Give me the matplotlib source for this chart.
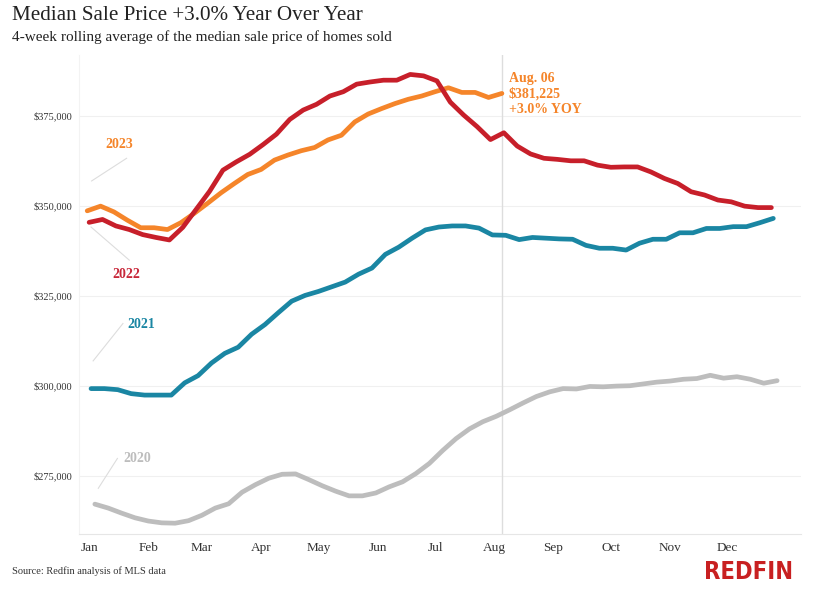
import matplotlib
matplotlib.use("Agg")
import matplotlib.pyplot as plt
import matplotlib.transforms as mtransforms
import pandas as pd
import numpy as np

# ---------------- data ----------------
years = [2020, 2021, 2022, 2023]
start_dates = {2020: "2020-01-05", 2021: "2021-01-03", 2022: "2022-01-02", 2023: "2023-01-01"}

price_2020 = [267100, 266000, 264600, 263300, 262400, 261900, 261800, 262500, 264000, 266000,
              267200, 270400, 272500, 274300, 275400, 275500, 273900, 272200, 270700, 269400,
              269400, 270200, 271900, 273300, 275600, 278400, 282000, 285300, 288000, 290000,
              291500, 293300, 295200, 297000, 298300, 299200, 299100, 299800, 299700, 299900,
              300000, 300500, 301000, 301300, 301800, 302000, 302900, 302100, 302500, 301800,
              300700, 301400]
price_2021 = [299200, 299200, 298900, 297800, 297400, 297400, 297400, 300800, 302800, 306300,
              309000, 310700, 314300, 317000, 320300, 323500, 325100, 326200, 327500, 328800,
              331000, 332700, 336500, 338500, 341000, 343300, 344100, 344400, 344400, 343800,
              341900, 341800, 340600, 341200, 341000, 340800, 340700, 339000, 338200, 338200,
              337700, 339600, 340700, 340700, 342500, 342500, 343700, 343700, 344200, 344200,
              345300, 346500]
price_2022 = [345400, 346200, 344400, 343400, 342000, 341200, 340500, 344000, 349000, 354000,
              359900, 362200, 364300, 367000, 369900, 374000, 376600, 378200, 380500, 381700,
              383800, 384400, 384900, 384900, 386500, 386100, 384700, 378800, 375200, 372000,
              368400, 370300, 366600, 364400, 363200, 362900, 362500, 362500, 361300, 360700,
              360800, 360800, 359400, 357600, 356200, 353900, 353000, 351600, 351100, 349900,
              349500, 349500]
price_2023 = [348600, 349900, 348300, 346000, 343900, 343900, 343400, 345300, 347900, 350700,
              353600, 356200, 358700, 360100, 362700, 364100, 365300, 366200, 368300, 369600,
              373300, 375500, 377000, 378400, 379600, 380500, 381700, 382800, 381500, 381500,
              380100, 381225]
prices = {2020: price_2020, 2021: price_2021, 2022: price_2022, 2023: price_2023}

month_labels = ["Jan", "Feb", "Mar", "Apr", "May", "Jun", "Jul", "Aug", "Sep", "Oct", "Nov", "Dec"]
y_ticks = [275000, 300000, 325000, 350000, 375000]

colors = {2020: "#BDBDBD", 2021: "#1A86A3", 2022: "#C71F2A", 2023: "#F5852A"}
label_colors = {2020: "#BDBDBD", 2021: "#1A86A3", 2022: "#C8283A", 2023: "#F5852A"}

# label positions (day-of-year, price) and leader lines
label_pos = {2023: (17, 366900), 2022: (20.6, 331000), 2021: (28.5, 317100), 2020: (26.4, 279900)}
leader = {2023: ((2.3, 356900), (20.6, 363200)),
          2022: ((2.0, 344100), (22.0, 334900)),
          2021: ((3.1, 306900), (18.7, 317300)),
          2020: ((5.8, 271500), (15.8, 279800))}

latest_date = "2023-08-06"
latest_text = "Aug. 06\n$381,225\n+3.0% YOY"

# ---------------- plot ----------------
serif = ["Liberation Serif", "DejaVu Serif"]
plt.rcParams["font.family"] = serif

fig = plt.figure(figsize=(8.15, 6.07), dpi=100)
ax = fig.add_axes([79 / 815, 1 - 534 / 607, 722 / 815, 479 / 607])

def doy(ts):
    return (ts - pd.Timestamp(ts.year, 1, 1)).days

for yr in [2020, 2021, 2023, 2022]:
    dates = pd.date_range(start_dates[yr], periods=len(prices[yr]), freq="7D")
    x = [doy(d) for d in dates]
    ax.plot(x, prices[yr], color=colors[yr], lw=3.4, solid_capstyle="round",
            solid_joinstyle="round", zorder=3)

for yr in years:
    (x0, y0), (x1, y1) = leader[yr]
    ax.plot([x0, x1], [y0, y1], color="#DDDDDD", lw=0.8, zorder=2)
    ax.text(label_pos[yr][0], label_pos[yr][1], str(yr), color=label_colors[yr],
            fontsize=10, fontweight="bold", ha="center", va="center")

ld = doy(pd.Timestamp(latest_date))
ax.axvline(ld, color="#DDDDDD", lw=1, zorder=1)
ax.text(ld + 3.5, 387300, latest_text, color="#F5852A", fontsize=10, fontweight="bold",
        ha="left", va="top", linespacing=1.25)

ax.set_xlim(-4.3, 373.5)
ax.set_ylim(258800, 391900)

month_starts = [doy(pd.Timestamp(2023, m, 1)) + 1 for m in range(1, 13)]
ax.set_xticks(month_starts)
ax.set_xticklabels(month_labels, fontsize=9.5, color="#333333")
ax.set_yticks(y_ticks)
ax.set_yticklabels(["${:,.0f}".format(v) for v in y_ticks], fontsize=7.5, color="#333333")
ax.tick_params(axis="both", length=0)
ax.tick_params(axis="y", pad=5)
ax.tick_params(axis="x", pad=6)

ax.grid(axis="y", color="#F0F0F0", lw=0.8)
ax.set_axisbelow(True)
for s in ["top", "right"]:
    ax.spines[s].set_visible(False)
ax.spines["left"].set_color("#F3F3F3")
ax.spines["bottom"].set_color("#E6E6E6")

fig.text(12 / 815, 1 - 15 / 607, "Median Sale Price +3.0% Year Over Year", fontsize=15.2,
         color="#222222", ha="left", va="center")
fig.text(12 / 815, 1 - 37 / 607, "4-week rolling average of the median sale price of homes sold",
         fontsize=11, color="#222222", ha="left", va="center")
fig.text(12 / 815, 1 - 571 / 607, "Source: Redfin analysis of MLS data", fontsize=7.5,
         color="#333333", ha="left", va="center")
fig.text(793 / 815, 1 - 572 / 607, "REDFIN", fontsize=17, fontweight="bold",
         fontstretch="condensed", family=["DejaVu Sans"], color="#C82021",
         ha="right", va="center")

fig.savefig("out.png", dpi=100)
